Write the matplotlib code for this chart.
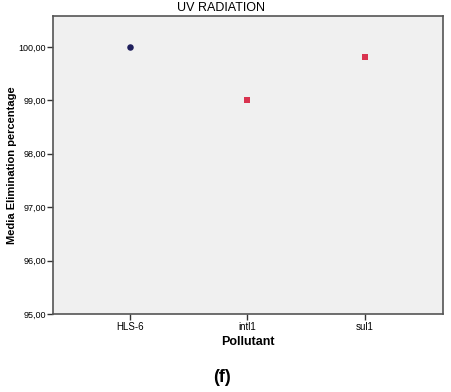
import matplotlib
matplotlib.use('Agg')
import matplotlib.pyplot as plt
from matplotlib.ticker import FuncFormatter

# data
pollutants = ['HLS-6', 'intl1', 'sul1']
elimination = [100.0, 99.0, 99.81]
marker_colors = ['#1f1f5c', '#d9334f', '#d9334f']
marker_shapes = ['o', 's', 's']
y_ticks = [95, 96, 97, 98, 99, 100]

plt.rcParams['font.family'] = ['Liberation Sans', 'DejaVu Sans']

fig = plt.figure(figsize=(4.51, 3.92), dpi=100)
ax = fig.add_axes([53/451, 1 - 314/392, (443-53)/451, (314-16)/392])
ax.set_facecolor('#f0f0f0')

for i, (v, c, m) in enumerate(zip(elimination, marker_colors, marker_shapes)):
    ax.scatter(i, v, color=c, marker=m, s=22 if m == 'o' else 14, zorder=3, linewidths=0)

ax.set_xlim(-0.66, 2.67)
ax.set_ylim(95, 100.58)
ax.set_xticks(range(len(pollutants)))
ax.set_xticklabels(pollutants, fontsize=7)
ax.set_yticks(y_ticks)
ax.yaxis.set_major_formatter(FuncFormatter(lambda v, p: f'{v:.2f}'.replace('.', ',')))
ax.tick_params(axis='y', labelsize=6.5, length=4, width=1, color='#333333', pad=1)
ax.tick_params(axis='x', length=4, width=1, color='#333333', pad=2)

for s in ax.spines.values():
    s.set_color('#555555')
    s.set_linewidth(1.2)

# title sits centred on the figure, not the axes
fig.text(221/451, 1 - 8/392, 'UV RADIATION', fontsize=9, ha='center', va='center')
ax.set_ylabel('Media Elimination percentage', fontsize=8, fontweight='bold')
ax.yaxis.set_label_coords(-0.092, 0.5)
ax.set_xlabel('Pollutant', fontsize=9, fontweight='bold', labelpad=3)
fig.text(222/451, 1 - 378/392, '(f)', fontsize=13, fontweight='bold', ha='center', va='center')

fig.savefig('out.png', dpi=100)
